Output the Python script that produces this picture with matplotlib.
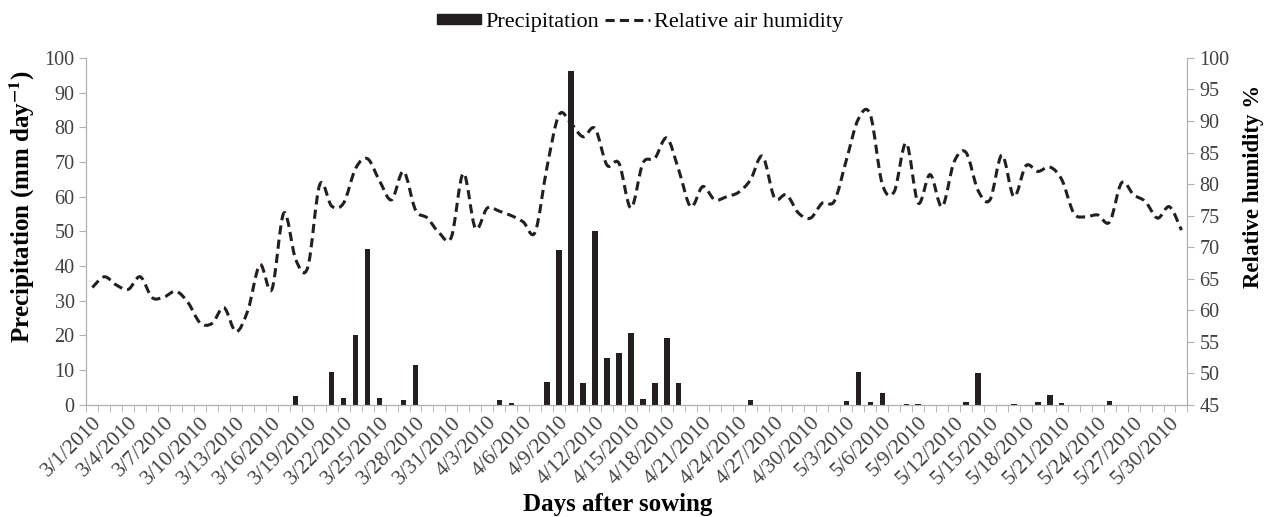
import matplotlib
matplotlib.use('Agg')
import matplotlib.pyplot as plt
import pandas as pd
from matplotlib.path import Path
from matplotlib.patches import PathPatch, Patch
from matplotlib.lines import Line2D

plt.rcParams['font.family'] = ['Liberation Serif', 'DejaVu Serif']
plt.rcParams['mathtext.fontset'] = 'stix'

# days 3/1/2010 .. 5/31/2010
days = pd.date_range('2010-03-01', '2010-05-31')
dayLabels = [f'{d.month}/{d.day}/{d.year}' for d in days]

# precipitation (mm/day), one value per day
precip = [0, 0, 0, 0, 0, 0, 0, 0, 0, 0,
          0, 0, 0, 0, 0, 0, 0, 2.6, 0, 0,
          9.6, 1.9, 20.2, 45, 1.9, 0, 1.4, 11.4, 0, 0,
          0, 0, 0, 0, 1.3, 0.4, 0, 0, 6.6, 44.7,
          96.3, 6.3, 50.1, 13.4, 14.8, 20.7, 1.8, 6.3, 19.2, 6.4,
          0, 0, 0, 0, 0, 1.5, 0, 0, 0, 0,
          0, 0, 0, 1.2, 9.6, 0.8, 3.4, 0, 0.3, 0.15,
          0, 0, 0, 0.8, 9.3, 0, 0, 0.1, 0, 0.8,
          2.7, 0.4, 0, 0, 0, 1.0, 0, 0, 0, 0,
          0, 0]

# relative air humidity (%)
humidity = [63.6, 65.3, 64.0, 63.3, 65.3, 62.0, 62.1, 63.0, 61.2, 58.0,
            57.9, 60.4, 56.6, 60.0, 67.2, 63.3, 75.4, 68.0, 66.8, 79.9,
            76.5, 77.0, 82.5, 84.0, 80.5, 77.5, 82.0, 75.9, 74.6, 72.2,
            71.6, 81.7, 73.0, 76.2, 75.7, 75.0, 74.0, 72.4, 82.8, 91.0,
            89.6, 87.5, 88.8, 83.0, 83.3, 76.2, 83.3, 84.1, 87.3, 82.2,
            76.4, 79.6, 77.5, 78.0, 78.7, 80.7, 84.4, 77.8, 78.3, 75.4,
            74.6, 77.0, 77.3, 83.8, 90.3, 91.0, 80.0, 78.8, 86.5, 77.0,
            81.5, 76.4, 83.5, 85.0, 79.0, 77.5, 84.6, 78.0, 82.9, 82.0,
            82.7, 80.7, 75.4, 74.8, 75.1, 74.0, 80.2, 78.3, 77.2, 74.6,
            76.4, 72.7]

x = list(range(len(days)))

fig = plt.figure(figsize=(12.7, 5.17), dpi=100)
ax = fig.add_axes([0.068, 0.217, 0.867, 0.671])
ax2 = ax.twinx()

ax.bar(x, precip, width=0.45, color='#231f20', zorder=2)
ax.set_xlim(-0.5, len(days) - 0.5)
ax.set_ylim(0, 100)
ax.set_yticks(range(0, 101, 10))

# smoothed line like excel (bezier through the points)
verts = [(x[0], humidity[0])]
codes = [Path.MOVETO]
n = len(humidity)
for i in range(n - 1):
    p0 = (x[max(i - 1, 0)], humidity[max(i - 1, 0)])
    p1 = (x[i], humidity[i])
    p2 = (x[i + 1], humidity[i + 1])
    p3 = (x[min(i + 2, n - 1)], humidity[min(i + 2, n - 1)])
    c1 = (p1[0] + (p2[0] - p0[0]) / 6, p1[1] + (p2[1] - p0[1]) / 6)
    c2 = (p2[0] - (p3[0] - p1[0]) / 6, p2[1] - (p3[1] - p1[1]) / 6)
    verts += [c1, c2, p2]
    codes += [Path.CURVE4] * 3
ax2.add_patch(PathPatch(Path(verts, codes), fill=False, edgecolor='#231f20',
                        lw=2.2, linestyle=(0, (3, 1.7)), capstyle='butt', zorder=3))
ax2.set_ylim(45, 100)
ax2.set_yticks(range(45, 101, 5))

grey = '#b0b0b0'
for a in (ax, ax2):
    a.spines['top'].set_visible(False)
    for s in ('left', 'right', 'bottom'):
        a.spines[s].set_color(grey)
    a.tick_params(axis='y', colors=grey, labelcolor='#404040', labelsize=14.5, length=5)

# labels every 3 days at category centres, tick marks at boundaries
ax.set_xticks(x[::3])
ax.set_xticklabels(dayLabels[::3], rotation=45, ha='right', rotation_mode='anchor',
                   fontsize=15.5, color='#404040')
ax.tick_params(axis='x', which='major', length=0, pad=6)
ax.set_xticks([i - 0.5 for i in x] + [len(days) - 0.5], minor=True)
ax.tick_params(axis='x', which='minor', length=5, color=grey)

ax.set_ylabel(r'Precipitation (mm day$^{\mathbf{-1}}$)', fontsize=18, fontweight='bold')
ax.yaxis.set_label_coords(-0.045, 0.57)
ax2.set_ylabel('Relative humidity %', fontsize=16.5, fontweight='bold')
ax2.yaxis.set_label_coords(1.050, 0.63)
fig.text(618 / 1270, 1 - 505 / 517, 'Days after sowing', fontsize=18,
         fontweight='bold', ha='center', va='center')

handles = [Patch(color='#231f20'),
           Line2D([], [], color='#231f20', lw=2.2, linestyle=(0, (3, 1.7)))]
fig.legend(handles, ['Precipitation', 'Relative air humidity'], loc='center',
           bbox_to_anchor=(0.504, 0.957), ncol=2, frameon=False, fontsize=16,
           handlelength=2.0, handleheight=0.3, handletextpad=0.2, columnspacing=0.25)

fig.savefig('out.png', dpi=100)
